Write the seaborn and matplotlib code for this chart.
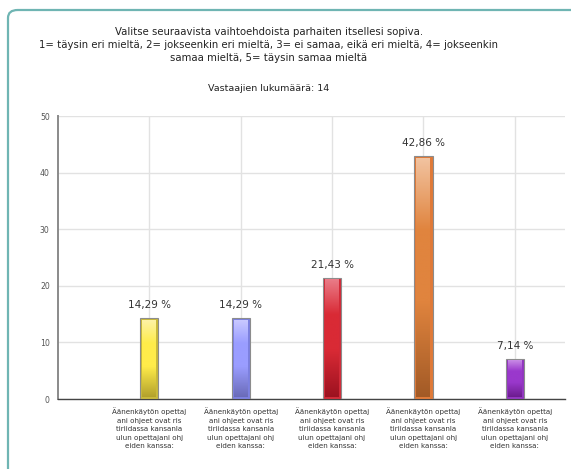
"""Vastausten jakauma pylväskaaviona (seaborn)."""

import matplotlib

matplotlib.use("Agg")

import matplotlib.pyplot as plt
import numpy as np
import pandas as pd
import seaborn as sns
from matplotlib.colors import LinearSegmentedColormap
from matplotlib.patches import FancyBboxPatch

# --- data -------------------------------------------------------------
answers = ["1", "2", "3", "4", "5"]
percent = [14.29, 14.29, 21.43, 42.86, 7.14]
label_text = ("Äänenkäytön opettaj\nani ohjeet ovat ris\ntiriidassa kansanla\n"
              "ulun opettajani ohj\neiden kanssa:")
tick_labels = [label_text] * 5
y_ticks = [0, 10, 20, 30, 40, 50]

# (top, middle, bottom, edge)
bar_colors = [
    ("#fdf3a6", "#ffec4a", "#b3a12c", "#c9b93a"),
    ("#c9c9ff", "#9a9dff", "#6a6bb8", "#7c80e0"),
    ("#ea7c88", "#d92a35", "#9c1220", "#d22a38"),
    ("#f2c3a0", "#e0843e", "#a25a26", "#e07a38"),
    ("#c98be6", "#9a38cc", "#6c1c8e", "#9236c0"),
]

title = ("Valitse seuraavista vaihtoehdoista parhaiten itsellesi sopiva.\n"
         "1= täysin eri mieltä, 2= jokseenkin eri mieltä, 3= ei samaa, eikä eri mieltä, 4= jokseenkin\n"
         "samaa mieltä, 5= täysin samaa mieltä")
subtitle = "Vastaajien lukumäärä: 14"

df = pd.DataFrame({"answer": answers, "percent": percent})

sns.set_style("white")
plt.rcParams["font.family"] = ["DejaVu Sans"]

fig = plt.figure(figsize=(5.71, 4.69), dpi=100)

# rounded card border (top and left edges visible)
card = FancyBboxPatch((8 / 571, -0.2), 1.2, (469 - 10) / 469 + 0.2,
                      boxstyle="round,pad=0,rounding_size=0.017",
                      transform=fig.transFigure, facecolor="white",
                      edgecolor="#6fb5b3", linewidth=1.6, zorder=-5)
fig.patches.append(card)

ax = fig.add_axes([58 / 571, 1 - 399 / 469, (565 - 58) / 571, (399 - 116) / 469])
ax.set_facecolor("none")

sns.barplot(data=df, x="answer", y="percent", hue="answer",
            palette=[c[1] for c in bar_colors], width=0.2, legend=False,
            ax=ax, zorder=3)

ax.set_xlim(-1, 4.55)
ax.set_ylim(0, 50)
ax.set_yticks(y_ticks)
ax.set_xticks(range(5))
ax.set_xticklabels(tick_labels, fontsize=5.1, color="#333333", linespacing=1.5)
ax.tick_params(axis="y", labelsize=5.6, labelcolor="#555555", length=4,
               color="#333333", width=0.8, pad=2)
ax.tick_params(axis="x", length=4, color="#333333", width=0.8, pad=2)
ax.set_xlabel("")
ax.set_ylabel("")

ax.grid(True, color="#e2e2e2", linewidth=1, zorder=0)
ax.set_axisbelow(True)
for side in ("top", "right"):
    ax.spines[side].set_visible(False)
ax.spines["left"].set_color("#8a8a8a")
ax.spines["left"].set_linewidth(1.4)
ax.spines["bottom"].set_color("#444444")
ax.spines["bottom"].set_linewidth(1.0)

# gradient fill and value labels
for patch, (top, mid, bot, edge), val in zip(ax.patches, bar_colors, percent):
    x0, y0 = patch.get_x(), patch.get_y()
    w, h = patch.get_width(), patch.get_height()
    patch.set_facecolor(edge)
    patch.set_edgecolor("#8c8c8c")
    patch.set_linewidth(0.8)
    cmap = LinearSegmentedColormap.from_list(
        "g", [(0, bot), (0.4, mid), (0.7, mid), (1, top)])
    grad = np.linspace(0, 1, 256).reshape(-1, 1)
    inset_x = w * 0.12
    inset_y = 0.35
    ax.imshow(grad, cmap=cmap, origin="lower", aspect="auto",
              extent=(x0 + inset_x, x0 + w - inset_x, y0 + inset_y, y0 + h - inset_y),
              zorder=4)
    ax.text(x0 + w / 2, h + 1.4, f"{val:.2f} %".replace(".", ","),
            ha="center", va="bottom", fontsize=7.5, color="#333333", zorder=5)

ax.set_xlim(-1, 4.55)
ax.set_ylim(0, 50)

fig.text(0.471, 1 - 27 / 469, title, ha="center", va="top", fontsize=7.3,
         color="#222222", linespacing=1.35)
fig.text(0.471, 1 - 88 / 469, subtitle, ha="center", va="center", fontsize=6.8,
         color="#222222")

fig.savefig("out.png", dpi=100)
